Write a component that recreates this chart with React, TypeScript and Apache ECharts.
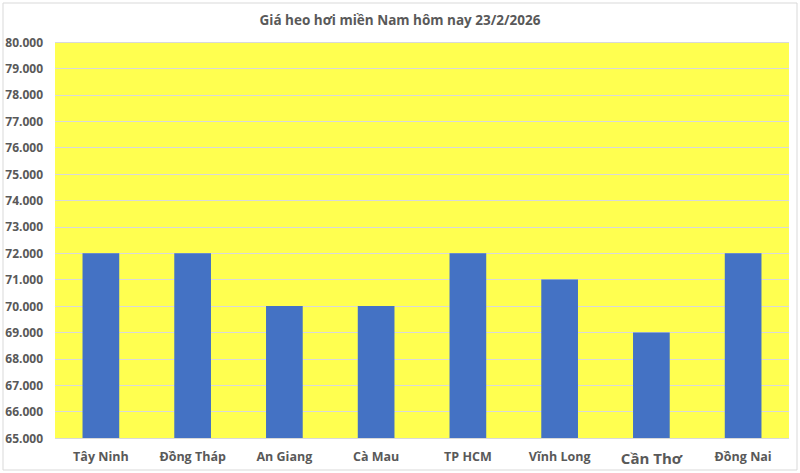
import React, { useEffect, useRef } from 'react';
import * as echarts from 'echarts';

const chartTitle = 'Giá heo hơi miền Nam hôm nay 23/2/2026';
const provinces = ['Tây Ninh', 'Đồng Tháp', 'An Giang', 'Cà Mau', 'TP HCM', 'Vĩnh Long', 'Cần Thơ', 'Đồng Nai'];
const prices = [72000, 72000, 70000, 70000, 72000, 71000, 69000, 72000];
const yMin = 65000;
const yMax = 80000;
const yStep = 1000;

const fmt = (v: number) => v.toLocaleString('de-DE', { minimumFractionDigits: 0 }).replace(',', '.');

export default function App() {
  const chartRef = useRef<HTMLDivElement>(null);

  useEffect(() => {
    if (!chartRef.current) return;
    const chart = echarts.init(chartRef.current, undefined, { renderer: 'svg' });

    const option: echarts.EChartsOption = {
      animation: false,
      backgroundColor: '#ffffff',
      textStyle: { fontFamily: 'Open Sans, Noto Sans, sans-serif' },
      title: {
        text: chartTitle,
        left: 'center',
        top: 8,
        textStyle: { color: '#595959', fontSize: 13.5, fontWeight: 'bold' }
      },
      grid: {
        left: 55,
        right: 11,
        top: 42,
        bottom: 35,
        show: true,
        backgroundColor: '#FFFF50',
        borderWidth: 0
      },
      xAxis: {
        type: 'category',
        data: provinces,
        axisLine: { show: false },
        axisTick: { show: false },
        axisLabel: {
          interval: 0,
          color: '#595959',
          fontSize: 12.5,
          fontWeight: 'bold',
          margin: 12,
          formatter: (v: string) => (v === 'Cần Thơ' ? `{big|${v}}` : v),
          rich: {
            big: { fontSize: 15, fontWeight: 'bold', color: '#595959' }
          }
        }
      },
      yAxis: {
        type: 'value',
        min: yMin,
        max: yMax,
        interval: yStep,
        axisLine: { show: false },
        axisTick: { show: false },
        axisLabel: {
          color: '#595959',
          fontSize: 12,
          fontWeight: 'bold',
          margin: 12,
          formatter: (v: number) => fmt(v)
        },
        splitLine: { lineStyle: { color: '#d9d9d9', width: 1 } }
      },
      series: [
        {
          type: 'bar',
          data: prices,
          barWidth: '40%',
          itemStyle: { color: '#4472C4' }
        }
      ],
      graphic: [
        {
          type: 'rect',
          shape: { x: 3, y: 3, width: 794, height: 467 },
          style: { fill: 'none', stroke: '#d9d9d9', lineWidth: 1 },
          silent: true
        }
      ]
    };

    chart.setOption(option);
    return () => chart.dispose();
  }, []);

  return (
    <div
      ref={chartRef}
      style={{ position: 'fixed', left: 0, top: 0, width: '800px', height: '473px' }}
    />
  );
}
